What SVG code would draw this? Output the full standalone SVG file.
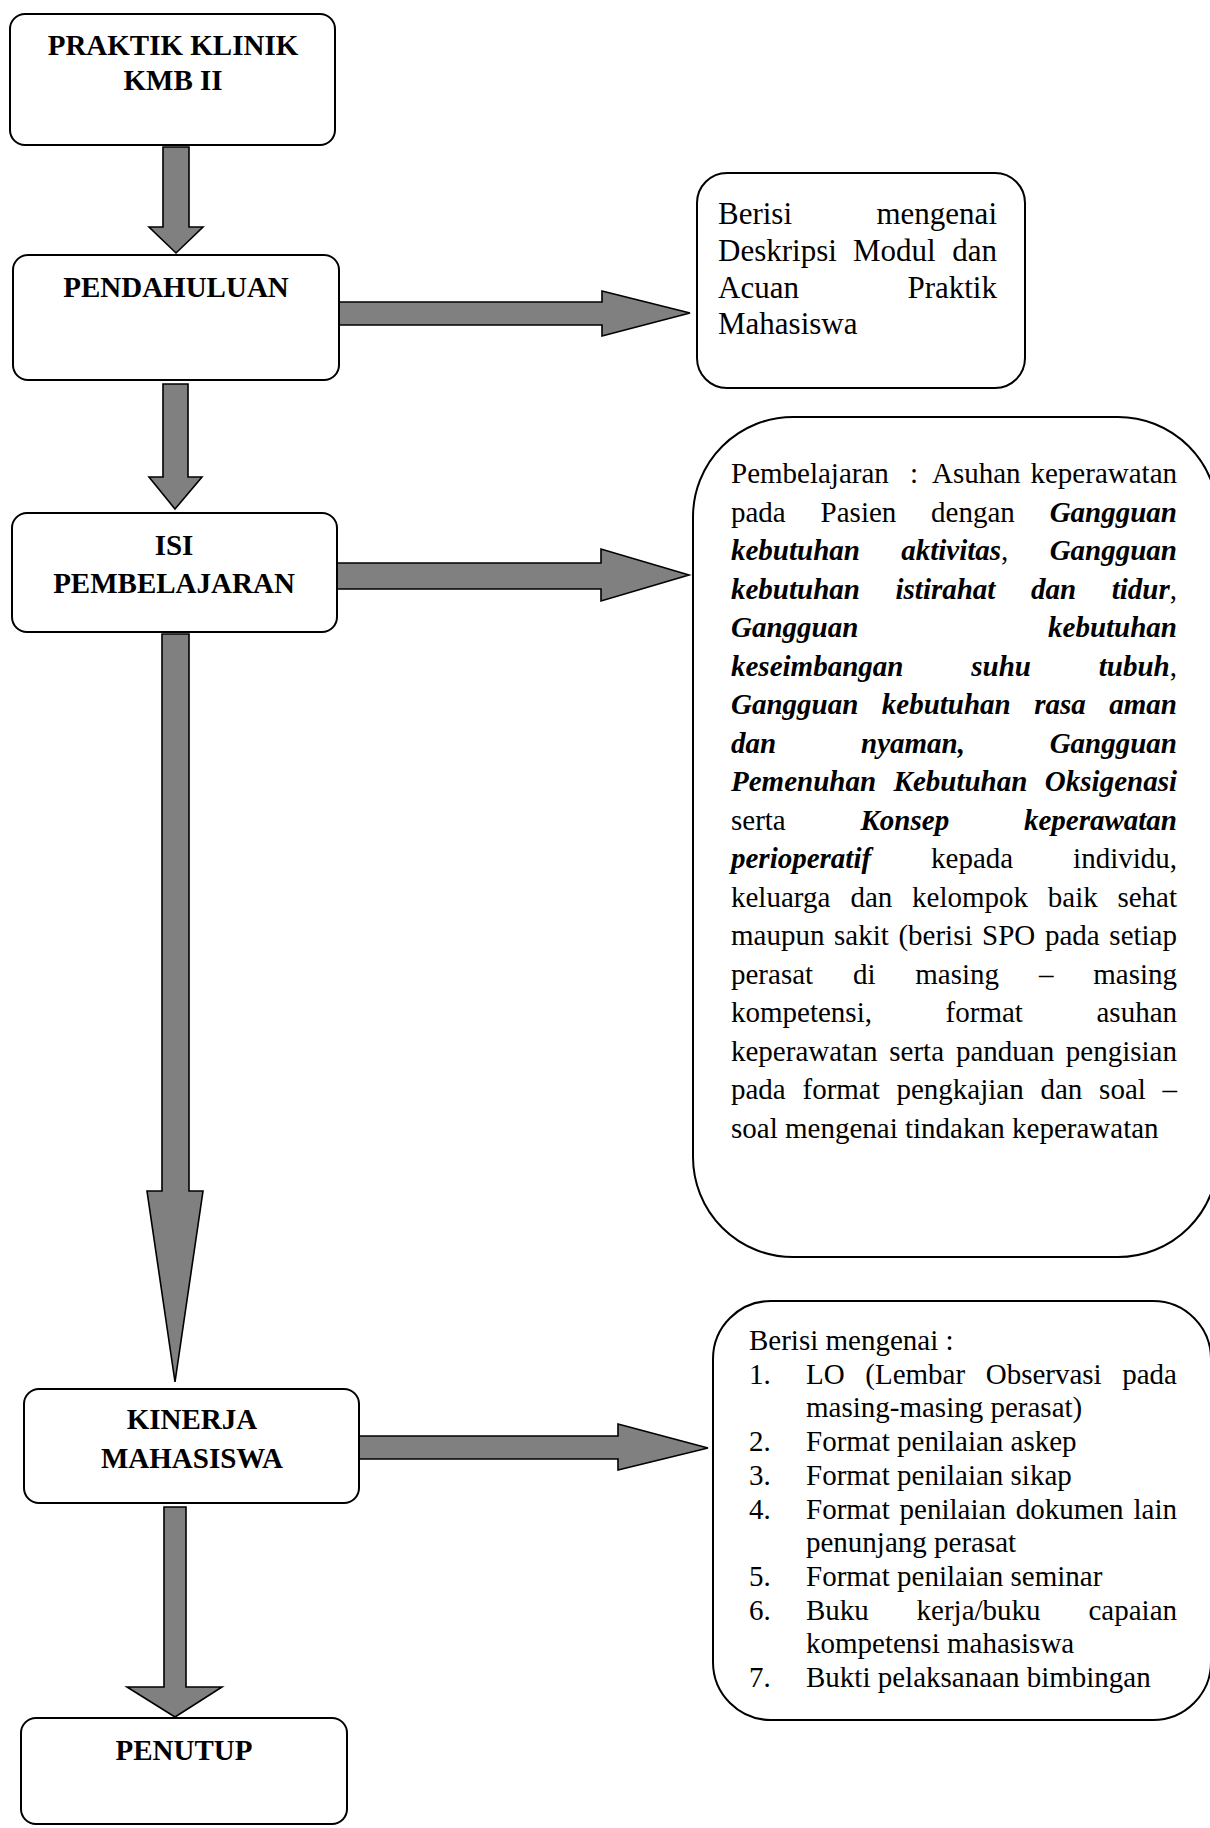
<svg xmlns="http://www.w3.org/2000/svg" width="1210" height="1828" viewBox="0 0 1210 1828">
<style>
.box{fill:#fff;stroke:#000;stroke-width:2}
.arr{fill:#808080;stroke:#000;stroke-width:1.6;stroke-linejoin:miter}
.t{font-family:"Liberation Serif","Times New Roman",serif;font-size:29px;fill:#000}
.b{font-weight:bold}
.c{text-anchor:middle}
.bi{font-weight:bold;font-style:italic}
.e{text-anchor:end}
.s31{font-size:31px}
</style>
<rect width="1210" height="1828" fill="#fff"/>
<g id="connectors">
<polygon class="arr" points="163,147 189,147 189,227 203,227 176,253 149,227 163,227"/>
<polygon class="arr" points="163,384 188,384 188,477 202,477 175,509 149,477 163,477"/>
<polygon class="arr" points="162,634 189,634 189,1191 203,1191 175,1382 147,1191 162,1191"/>
<polygon class="arr" points="164,1507 186,1507 186,1687 222,1687 175,1717 127,1687 164,1687"/>
<polygon class="arr" points="338,302 602,302 602,291 690,313 602,336 602,325 338,325"/>
<polygon class="arr" points="337,563 601,563 601,549 689,575 601,601 601,589 337,589"/>
<polygon class="arr" points="359,1436 618,1436 618,1424 708,1448 618,1470 618,1459 359,1459"/>
</g>
<g id="praktik">
<rect class="box" x="10" y="14" width="325" height="131" rx="15"/>
<text class="t b c" x="173" y="55">PRAKTIK KLINIK</text>
<text class="t b c" x="173" y="90">KMB II</text>
</g>
<g id="pendahuluan">
<rect class="box" x="13" y="255" width="326" height="125" rx="15"/>
<text class="t b c" x="176" y="297">PENDAHULUAN</text>
</g>
<g id="isi">
<rect class="box" x="12" y="513" width="325" height="119" rx="15"/>
<text class="t b c" x="174" y="555">ISI</text>
<text class="t b c" x="174" y="593">PEMBELAJARAN</text>
</g>
<g id="kinerja">
<rect class="box" x="24" y="1389" width="335" height="114" rx="15"/>
<text class="t b c" x="192" y="1429">KINERJA</text>
<text class="t b c" x="192" y="1468">MAHASISWA</text>
</g>
<g id="penutup">
<rect class="box" x="21" y="1718" width="326" height="106" rx="15"/>
<text class="t b c" x="184" y="1760">PENUTUP</text>
</g>
<g id="desc-pendahuluan">
<rect class="box" x="697" y="173" width="328" height="215" rx="30"/>
<text class="t s31" y="224"><tspan x="718">Berisi</tspan><tspan class="e" x="997">mengenai</tspan></text>
<text class="t s31" y="261"><tspan x="718">Deskripsi</tspan><tspan x="853">Modul</tspan><tspan class="e" x="997">dan</tspan></text>
<text class="t s31" y="298"><tspan x="718">Acuan</tspan><tspan class="e" x="997">Praktik</tspan></text>
<text class="t s31" x="718" y="334">Mahasiswa</text>
</g>
<g id="desc-isi">
<rect class="box" x="693" y="417" width="525" height="840" rx="100"/>
<text class="t" y="483"><tspan x="731">Pembelajaran</tspan><tspan x="910">:</tspan><tspan x="932">Asuhan</tspan><tspan class="e" x="1177">keperawatan</tspan></text>
<text class="t" y="521.5"><tspan x="731">pada</tspan><tspan x="820.6">Pasien</tspan><tspan x="931.1">dengan</tspan><tspan class="bi e" x="1177">Gangguan</tspan></text>
<text class="t" y="560"><tspan class="bi" x="731">kebutuhan</tspan><tspan class="bi" x="901.2">aktivitas</tspan><tspan>,</tspan><tspan class="bi e" x="1177">Gangguan</tspan></text>
<text class="t" y="598.5"><tspan class="bi" x="731">kebutuhan</tspan><tspan class="bi" x="895.5">istirahat</tspan><tspan class="bi" x="1031">dan</tspan><tspan class="e" x="1177"><tspan class="bi">tidur</tspan>,</tspan></text>
<text class="t" y="637"><tspan class="bi" x="731">Gangguan</tspan><tspan class="bi e" x="1177">kebutuhan</tspan></text>
<text class="t" y="675.5"><tspan class="bi" x="731">keseimbangan</tspan><tspan class="bi" x="971.3">suhu</tspan><tspan class="e" x="1177"><tspan class="bi">tubuh</tspan>,</tspan></text>
<text class="t bi" y="714"><tspan x="731">Gangguan</tspan><tspan x="881.8">kebutuhan</tspan><tspan x="1034.2">rasa</tspan><tspan class="e" x="1177">aman</tspan></text>
<text class="t bi" y="752.5"><tspan x="731">dan</tspan><tspan x="861">nyaman,</tspan><tspan class="e" x="1177">Gangguan</tspan></text>
<text class="t bi" y="791"><tspan x="731">Pemenuhan</tspan><tspan x="893.6">Kebutuhan</tspan><tspan class="e" x="1177">Oksigenasi</tspan></text>
<text class="t" y="829.5"><tspan x="731">serta</tspan><tspan class="bi" x="860.5">Konsep</tspan><tspan class="bi e" x="1177">keperawatan</tspan></text>
<text class="t" y="868"><tspan class="bi" x="731">perioperatif</tspan><tspan x="931.1">kepada</tspan><tspan class="e" x="1177">individu,</tspan></text>
<text class="t" y="906.5"><tspan x="731">keluarga</tspan><tspan x="850.5">dan</tspan><tspan x="912.1">kelompok</tspan><tspan x="1047.8">baik</tspan><tspan class="e" x="1177">sehat</tspan></text>
<text class="t" y="945"><tspan x="731">maupun</tspan><tspan x="834">sakit</tspan><tspan x="898.4">(berisi</tspan><tspan x="982.1">SPO</tspan><tspan x="1044.9">pada</tspan><tspan class="e" x="1177">setiap</tspan></text>
<text class="t" y="983.5"><tspan x="731">perasat</tspan><tspan x="852.9">di</tspan><tspan x="915.3">masing</tspan><tspan x="1038.9">–</tspan><tspan class="e" x="1177">masing</tspan></text>
<text class="t" y="1022"><tspan x="731">kompetensi,</tspan><tspan x="945.6">format</tspan><tspan class="e" x="1177">asuhan</tspan></text>
<text class="t" y="1060.5"><tspan x="731">keperawatan</tspan><tspan x="889.3">serta</tspan><tspan x="955.9">panduan</tspan><tspan class="e" x="1177">pengisian</tspan></text>
<text class="t" y="1099"><tspan x="731">pada</tspan><tspan x="802.5">format</tspan><tspan x="896.5">pengkajian</tspan><tspan x="1040.5">dan</tspan><tspan x="1099.1">soal</tspan><tspan class="e" x="1177">–</tspan></text>
<text class="t" x="731" y="1137.5">soal mengenai tindakan keperawatan</text>
</g>
<g id="desc-kinerja">
<rect class="box" x="713" y="1301" width="498" height="419" rx="58"/>
<text class="t" x="749" y="1350">Berisi mengenai :</text>
<text class="t" y="1383.7"><tspan x="749">1.</tspan><tspan x="806">LO</tspan><tspan x="865.3">(Lembar</tspan><tspan x="985.7">Observasi</tspan><tspan class="e" x="1177">pada</tspan></text>
<text class="t" x="806" y="1417.4">masing-masing perasat)</text>
<text class="t" y="1451.1"><tspan x="749">2.</tspan><tspan x="806">Format penilaian askep</tspan></text>
<text class="t" y="1484.8"><tspan x="749">3.</tspan><tspan x="806">Format penilaian sikap</tspan></text>
<text class="t" y="1518.5"><tspan x="749">4.</tspan><tspan x="806">Format</tspan><tspan x="899.6">penilaian</tspan><tspan x="1015.7">dokumen</tspan><tspan class="e" x="1177">lain</tspan></text>
<text class="t" x="806" y="1552.2">penunjang perasat</text>
<text class="t" y="1585.9"><tspan x="749">5.</tspan><tspan x="806">Format penilaian seminar</tspan></text>
<text class="t" y="1619.6"><tspan x="749">6.</tspan><tspan x="806">Buku</tspan><tspan x="916.6">kerja/buku</tspan><tspan class="e" x="1177">capaian</tspan></text>
<text class="t" x="806" y="1653.3">kompetensi mahasiswa</text>
<text class="t" y="1687"><tspan x="749">7.</tspan><tspan x="806">Bukti pelaksanaan bimbingan</tspan></text>
</g>
</svg>
